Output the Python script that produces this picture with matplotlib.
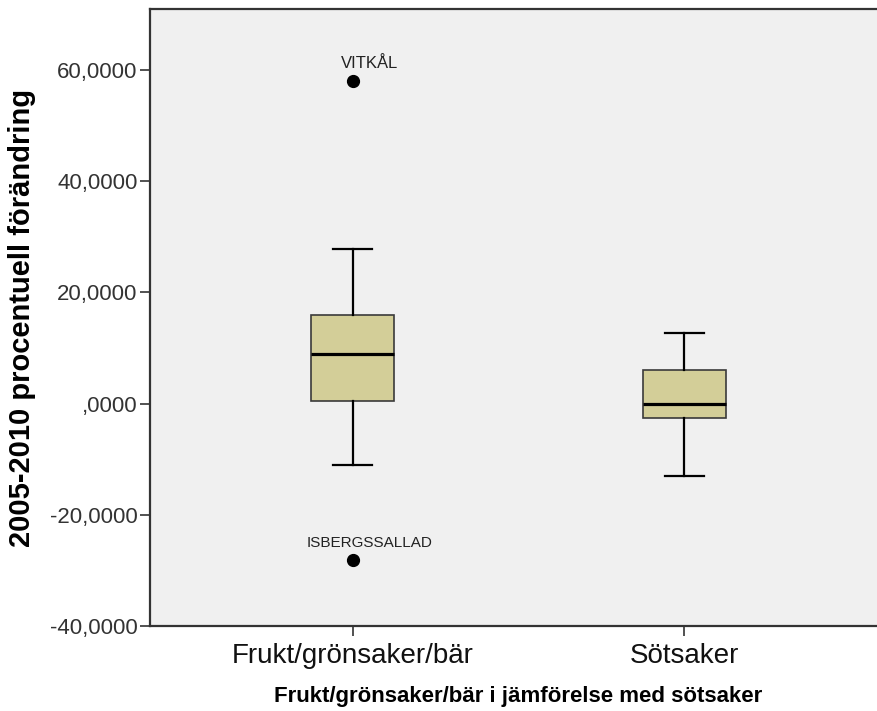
import matplotlib
matplotlib.use("Agg")
import matplotlib.pyplot as plt
from matplotlib import font_manager
from matplotlib.ticker import FixedLocator, FuncFormatter

# Group summary statistics
categories = ["Frukt/grönsaker/bär", "Sötsaker"]
q1 = [0.4, -2.5]
medians = [8.9, 0.0]
q3 = [16.0, 6.0]
whisker_low = [-11.0, -13.0]
whisker_high = [27.9, 12.8]
outlier_values = [[58.0, -28.1], []]
outlier_names = [["VITKÅL", "ISBERGSSALLAD"], []]
y_ticks = [-40, -20, 0, 20, 40, 60]

available = {f.name for f in font_manager.fontManager.ttflist}
regular = "Liberation Sans" if "Liberation Sans" in available else "DejaVu Sans"
narrow = "Liberation Sans Narrow" if "Liberation Sans Narrow" in available else regular

PX = 72 / 100  # points per pixel at 100 dpi

fig = plt.figure(figsize=(8.77, 7.11), dpi=100)
ax = fig.add_axes([150 / 877, 85 / 711, 737 / 877, 617 / 711])
ax.set_facecolor("#F0F0F0")

stats = []
for i, cat in enumerate(categories):
    stats.append(dict(label=cat, q1=q1[i], med=medians[i], q3=q3[i],
                      whislo=whisker_low[i], whishi=whisker_high[i],
                      fliers=outlier_values[i]))

positions = list(range(1, len(categories) + 1))
ax.bxp(stats, positions=positions, widths=0.25, patch_artist=True,
       showfliers=True,
       boxprops=dict(facecolor="#D3CE98", edgecolor="#3a3a3a", linewidth=1.2),
       medianprops=dict(color="black", linewidth=2.3),
       whiskerprops=dict(color="black", linewidth=1.6),
       capprops=dict(color="black", linewidth=1.6),
       capwidths=0.12,
       flierprops=dict(marker="o", markerfacecolor="black",
                       markeredgecolor="black", markersize=8.5))

for pos, vals, names in zip(positions, outlier_values, outlier_names):
    for v, name in zip(vals, names):
        ax.annotate(name, (pos, v), xytext=(17 * PX, 13 * PX),
                    textcoords="offset points", ha="center", va="baseline",
                    fontsize=11 if len(name) > 8 else 12,
                    family=narrow if len(name) > 8 else regular,
                    color="#222222")

ax.set_xlim(0.39, 2.61)
ax.set_ylim(-40, 71)
ax.yaxis.set_major_locator(FixedLocator(y_ticks))


def fmt(v, _):
    s = f"{v:.4f}".replace(".", ",")
    if s.startswith("0,"):
        s = s[1:]
    return s


ax.yaxis.set_major_formatter(FuncFormatter(fmt))
ax.set_xticks(positions)
ax.set_xticklabels(categories, family=narrow, fontsize=20, color="#111111")
for lbl in ax.get_yticklabels():
    lbl.set_family(regular)
    lbl.set_fontsize(16)
    lbl.set_color("#333333")

ax.tick_params(axis="both", direction="out", length=7.5, width=1.2, color="#333333")
ax.tick_params(axis="y", pad=1.5)
ax.tick_params(axis="x", pad=5)

for side in ("left", "bottom", "top"):
    ax.spines[side].set_color("#333333")
    ax.spines[side].set_linewidth(1.6)
ax.spines["right"].set_visible(False)

ax.set_ylabel("2005-2010 procentuell förändring", family=regular,
              fontweight="bold", fontsize=21, labelpad=10)
ax.set_xlabel("Frukt/grönsaker/bär i jämförelse med sötsaker", family=narrow,
              fontweight="bold", fontsize=16, labelpad=12)

fig.savefig("out.png", dpi=100, facecolor="white")
